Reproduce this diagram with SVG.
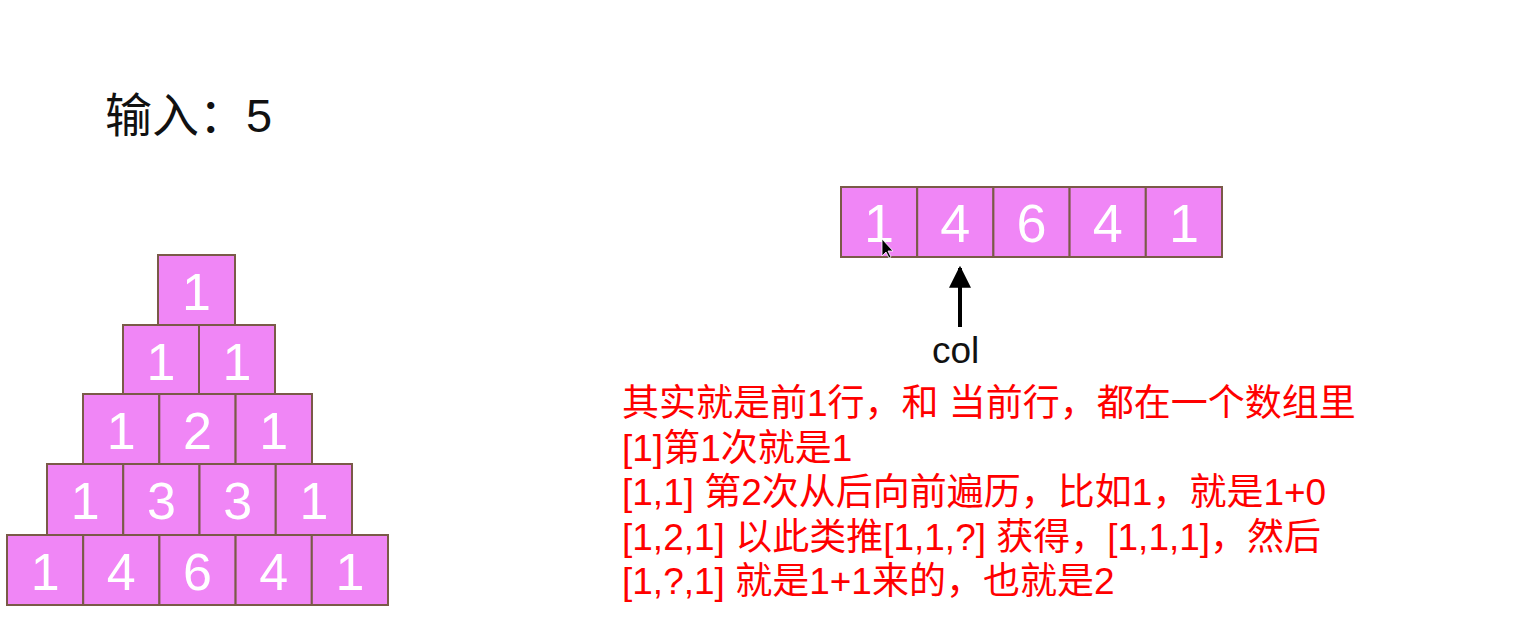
<svg xmlns="http://www.w3.org/2000/svg" width="1518" height="624" viewBox="0 0 1518 624">
<style>
.c{fill:#f086f6;stroke:#7a5a48;stroke-width:2}
.n{font-family:"Liberation Sans",Arial,sans-serif;font-size:52px;fill:#ffffff;text-anchor:middle}
.a{font-size:54px}
.r{font-family:"Liberation Sans","Noto Sans CJK SC",sans-serif;font-size:37px;fill:#ff0000}
.k{font-family:"Liberation Sans","Noto Sans CJK SC",sans-serif;fill:#111111}
</style>
<defs>
<marker id="ah" viewBox="0 0 10 10" refX="9" refY="5" markerWidth="5.5" markerHeight="5.5" orient="auto" markerUnits="strokeWidth">
<path d="M0,0 L10,5 L0,10 z" fill="#000"/>
</marker>
</defs>
<rect width="1518" height="624" fill="#ffffff"/>
<text class="k" x="105" y="132" font-size="47">输入：5</text>
<g id="pyramid">
<g id="p1_1"><rect class="c" x="158" y="255" width="77" height="70"/><text class="n" x="196.5" y="310">1</text></g>
<g id="p2_1"><rect class="c" x="123" y="325" width="76" height="69"/><text class="n" x="161" y="380">1</text></g>
<g id="p2_2"><rect class="c" x="199" y="325" width="76" height="69"/><text class="n" x="237" y="380">1</text></g>
<g id="p3_1"><rect class="c" x="83" y="394" width="76.3" height="70"/><text class="n" x="121.2" y="449">1</text></g>
<g id="p3_2"><rect class="c" x="159.3" y="394" width="76.3" height="70"/><text class="n" x="197.5" y="449">2</text></g>
<g id="p3_3"><rect class="c" x="235.6" y="394" width="76.4" height="70"/><text class="n" x="273.8" y="449">1</text></g>
<g id="p4_1"><rect class="c" x="47" y="464" width="76.25" height="71"/><text class="n" x="85.1" y="519">1</text></g>
<g id="p4_2"><rect class="c" x="123.25" y="464" width="76.25" height="71"/><text class="n" x="161.4" y="519">3</text></g>
<g id="p4_3"><rect class="c" x="199.5" y="464" width="76.25" height="71"/><text class="n" x="237.6" y="519">3</text></g>
<g id="p4_4"><rect class="c" x="275.75" y="464" width="76.25" height="71"/><text class="n" x="313.9" y="519">1</text></g>
<g id="p5_1"><rect class="c" x="7" y="535" width="76.2" height="70"/><text class="n" x="45.1" y="590">1</text></g>
<g id="p5_2"><rect class="c" x="83.2" y="535" width="76.2" height="70"/><text class="n" x="121.3" y="590">4</text></g>
<g id="p5_3"><rect class="c" x="159.4" y="535" width="76.2" height="70"/><text class="n" x="197.5" y="590">6</text></g>
<g id="p5_4"><rect class="c" x="235.6" y="535" width="76.2" height="70"/><text class="n" x="273.7" y="590">4</text></g>
<g id="p5_5"><rect class="c" x="311.8" y="535" width="76.2" height="70"/><text class="n" x="349.9" y="590">1</text></g>
</g>
<g id="array">
<g id="a1"><rect class="c" x="841" y="187" width="76.2" height="70"/><text class="n a" x="879.1" y="242">1</text></g>
<g id="a2"><rect class="c" x="917.2" y="187" width="76.2" height="70"/><text class="n a" x="955.3" y="242">4</text></g>
<g id="a3"><rect class="c" x="993.4" y="187" width="76.2" height="70"/><text class="n a" x="1031.5" y="242">6</text></g>
<g id="a4"><rect class="c" x="1069.6" y="187" width="76.2" height="70"/><text class="n a" x="1107.7" y="242">4</text></g>
<g id="a5"><rect class="c" x="1145.8" y="187" width="76.2" height="70"/><text class="n a" x="1183.9" y="242">1</text></g>
</g>
<g id="col-label"><text class="k" x="932" y="363" font-size="37">col</text></g>
<g id="connectors">
<line x1="960" y1="327" x2="960" y2="268" stroke="#000" stroke-width="4" marker-end="url(#ah)"/>
</g>
<path d="M882,239 L882,256 L886,252 L889,258 L891,257 L888,251 L893,251 z" fill="#000" stroke="#fff" stroke-width="0.8"/>
<g id="notes">
<text class="r" x="622" y="416">其实就是前1行，和 当前行，都在一个数组里</text>
<text class="r" x="622" y="460.5">[1]第1次就是1</text>
<text class="r" x="622" y="505">[1,1] 第2次从后向前遍历，比如1，就是1+0</text>
<text class="r" x="622" y="549.5">[1,2,1] 以此类推[1,1,?] 获得，[1,1,1]，然后</text>
<text class="r" x="622" y="594">[1,?,1] 就是1+1来的，也就是2</text>
</g>
</svg>
